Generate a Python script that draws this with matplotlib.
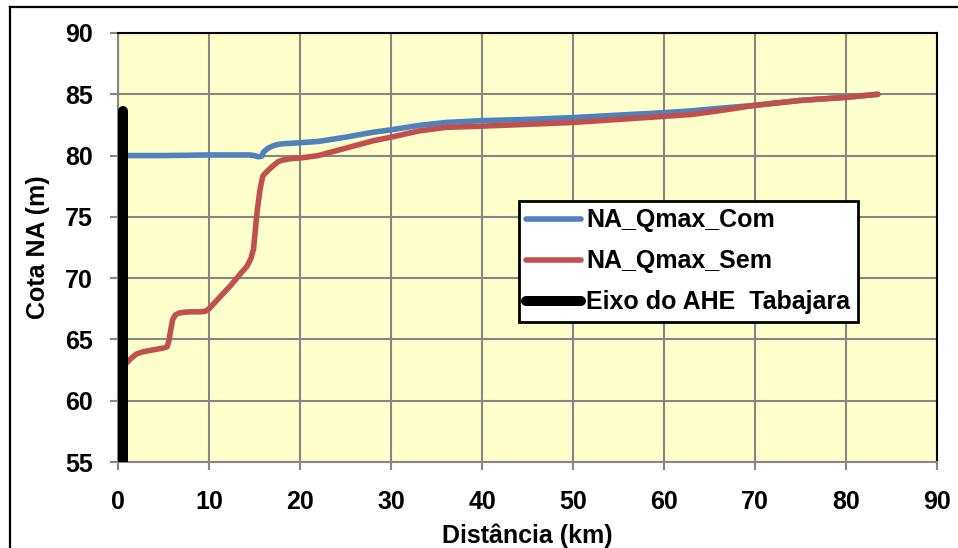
import matplotlib
matplotlib.use("Agg")
import matplotlib.pyplot as plt
from matplotlib.lines import Line2D

plt.rcParams['font.family'] = ['Liberation Sans', 'DejaVu Sans']
plt.rcParams['font.weight'] = 'bold'

# Water-level profiles along the river (distance in km, level in m)
dist_com = [0, 5, 10, 14.5, 15.0, 15.4, 15.8, 16.0, 16.5, 17.0, 17.5, 18.2,
            19.0, 20.0, 22.0, 25.0, 28.0, 30.0, 33.0, 36.0, 40.0, 45.0, 50.0,
            55.0, 60.0, 63.0, 66.0, 70.0, 75.0, 80.0, 83.5]
na_com = [80.0, 80.0, 80.05, 80.05, 80.0, 79.9, 79.95, 80.3, 80.6, 80.78, 80.9,
          80.97, 81.0, 81.05, 81.15, 81.5, 81.9, 82.1, 82.45, 82.7, 82.85,
          82.95, 83.1, 83.3, 83.5, 83.65, 83.85, 84.1, 84.5, 84.75, 85.0]

dist_sem = [0.0, 0.9, 1.5, 2.0, 2.7, 3.5, 5.0, 5.4, 5.6, 5.8, 6.0, 6.3, 6.7,
            7.3, 8.0, 9.0, 9.6, 10.0, 11.0, 12.5, 13.5, 14.2, 14.6, 14.9, 15.1,
            15.3, 15.6, 15.9, 16.1, 16.5, 17.1, 17.6, 18.0, 19.0, 20.0, 22.0,
            25.0, 28.0, 30.0, 33.0, 36.0, 40.0, 45.0, 50.0, 55.0, 60.0, 63.0,
            66.0, 70.0, 75.0, 80.0, 83.5]
na_sem = [62.7, 63.05, 63.5, 63.8, 63.98, 64.1, 64.3, 64.4, 64.9, 65.8, 66.6,
          67.0, 67.15, 67.22, 67.25, 67.25, 67.3, 67.5, 68.3, 69.5, 70.4, 71.0,
          71.6, 72.4, 74.0, 75.5, 77.2, 78.3, 78.5, 78.8, 79.2, 79.5, 79.62,
          79.75, 79.8, 80.0, 80.6, 81.2, 81.5, 82.0, 82.3, 82.4, 82.55, 82.7,
          82.95, 83.2, 83.35, 83.65, 84.1, 84.5, 84.75, 85.0]

# Dam axis marker
dist_eixo = [0.5, 0.5]
na_eixo = [55.0, 83.6]

x_ticks = [0, 10, 20, 30, 40, 50, 60, 70, 80, 90]
y_ticks = [55, 60, 65, 70, 75, 80, 85, 90]

FS = 18

fig = plt.figure(figsize=(9.58, 5.48), dpi=100)
ax = fig.add_axes([118 / 958, 1 - 462 / 548, 819 / 958, 429 / 548])
ax.set_facecolor('#FFFFCC')

ax.plot(dist_com, na_com, color='#4F81BD', lw=4.0, solid_capstyle='round',
        solid_joinstyle='round', label='NA_Qmax_Com', zorder=3)
ax.plot(dist_sem, na_sem, color='#C0504D', lw=4.0, solid_capstyle='round',
        solid_joinstyle='round', label='NA_Qmax_Sem', zorder=4)
ax.plot(dist_eixo, na_eixo, color='black', lw=7.2, solid_capstyle='round',
        label='Eixo do AHE  Tabajara', zorder=5)

ax.set_xlim(0, 90)
ax.set_ylim(55, 90)
ax.set_xticks(x_ticks)
ax.set_yticks(y_ticks)
ax.grid(True, color='#868686', lw=1.5, zorder=1)
ax.set_axisbelow(True)

for side in ('left', 'bottom'):
    ax.spines[side].set_color('#868686')
    ax.spines[side].set_linewidth(1.5)
for side in ('top', 'right'):
    ax.spines[side].set_color('black')
    ax.spines[side].set_linewidth(1.5)

ax.tick_params(axis='both', direction='out', color='#868686', width=1.5,
               length=6, labelsize=FS)
ax.tick_params(axis='y', pad=12)
ax.tick_params(axis='x', pad=14)
for lab in ax.get_xticklabels() + ax.get_yticklabels():
    lab.set_fontweight('bold')

ax.set_xlabel('Distância (km)', fontsize=FS, fontweight='bold', labelpad=7)
ax.set_ylabel('Cota NA (m)', fontsize=FS, fontweight='bold', labelpad=11)

leg = ax.legend(loc='upper left', bbox_to_anchor=(0.4896, 0.6084),
                borderaxespad=0, fancybox=False, framealpha=1,
                edgecolor='black', handlelength=2.2,
                handletextpad=0.2, labelspacing=0.68, borderpad=0.3,
                prop={'weight': 'bold', 'size': FS})
leg.get_frame().set_linewidth(2)
leg.set_zorder(10)

# Chart-area border (open to the right and bottom)
fig.add_artist(Line2D([10 / 958, 1], [1 - 6.5 / 548, 1 - 6.5 / 548],
                      color='black', lw=1.6, transform=fig.transFigure))
fig.add_artist(Line2D([10 / 958, 10 / 958], [0, 1 - 6.5 / 548],
                      color='black', lw=1.6, transform=fig.transFigure))

fig.savefig('out.png', dpi=100)
